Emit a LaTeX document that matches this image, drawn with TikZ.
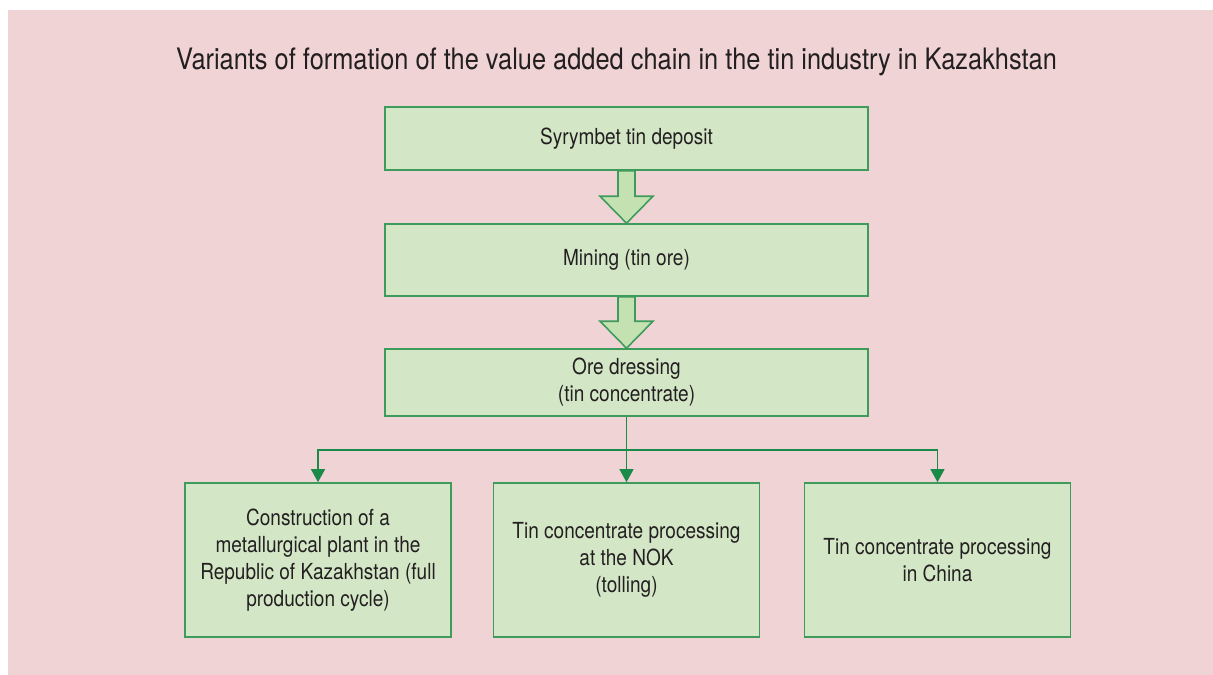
\documentclass[tikz,border=0pt]{standalone}
\usepackage{fontspec}
\setmainfont{TeX Gyre Heros}[FakeStretch=0.86]
\usetikzlibrary{arrows.meta,calc}
\definecolor{bgpink}{HTML}{F0D3D4}
\definecolor{boxfill}{HTML}{D3E7C7}
\definecolor{boxline}{HTML}{3D9B5C}
\definecolor{fatfill}{HTML}{C3E1B1}
\definecolor{linkcol}{HTML}{1A8A48}
\definecolor{txt}{HTML}{231F20}
\tikzset{
  stage/.style={draw=boxline,line width=0.9pt,fill=boxfill,text=txt,align=center,
    inner sep=0pt,font=\fontsize{12.6}{15.3}\selectfont},
  variant/.style={stage,minimum width=5.32cm,minimum height=3.08cm},
  fatarrow/.style={draw=boxline,line width=0.9pt,fill=fatfill,line join=miter},
  link/.style={draw=linkcol,line width=0.8pt,-{Triangle[length=7.5pt,width=8pt]}}
}
\begin{document}
\begin{tikzpicture}[x=0.02cm,y=-0.02cm]
\useasboundingbox (0,0) rectangle (1213,675);
\fill[bgpink] (8,10) rectangle (1213,675);
\node[text=txt,font=\fontsize{16.8}{20}\selectfont] (title) at (616.5,62)
  {Variants of formation of the value added chain in the tin industry in Kazakhstan};

% chain of stages
\node[stage,minimum width=9.66cm,minimum height=1.26cm] (deposit) at (626.5,138.5) {Syrymbet tin deposit};
\node[stage,minimum width=9.66cm,minimum height=1.44cm] (mining) at (626.5,260) {Mining (tin ore)};
\node[stage,minimum width=9.66cm,minimum height=1.34cm] (dressing) at (626.5,382.5) {Ore dressing\\(tin concentrate)};

\foreach \a/\b in {deposit/mining,mining/dressing}
  \draw[fatarrow] ($(\a.south)+(-8.5,0)$) -- ($(\b.north)+(-8.5,-27)$) -- ($(\b.north)+(-26.5,-27)$)
    -- (\b.north) -- ($(\b.north)+(26.5,-27)$) -- ($(\b.north)+(8.5,-27)$) -- ($(\a.south)+(8.5,0)$) -- cycle;

% variants
\node[variant] (plant) at (318,560) {Construction of a\\metallurgical plant in the\\Republic of Kazakhstan (full\\production cycle)};
\node[variant] (tolling) at (626.5,560) {Tin concentrate processing\\at the NOK\\(tolling)};
\node[variant] (china) at (937.5,560) {Tin concentrate processing\\in China};

\coordinate (fork) at (626.5,450);
\draw[link,-] (dressing.south) -- (fork);
\draw[link] (fork) -| (plant.north);
\draw[link] (fork) -- (tolling.north);
\draw[link] (fork) -| (china.north);
\end{tikzpicture}
\end{document}
